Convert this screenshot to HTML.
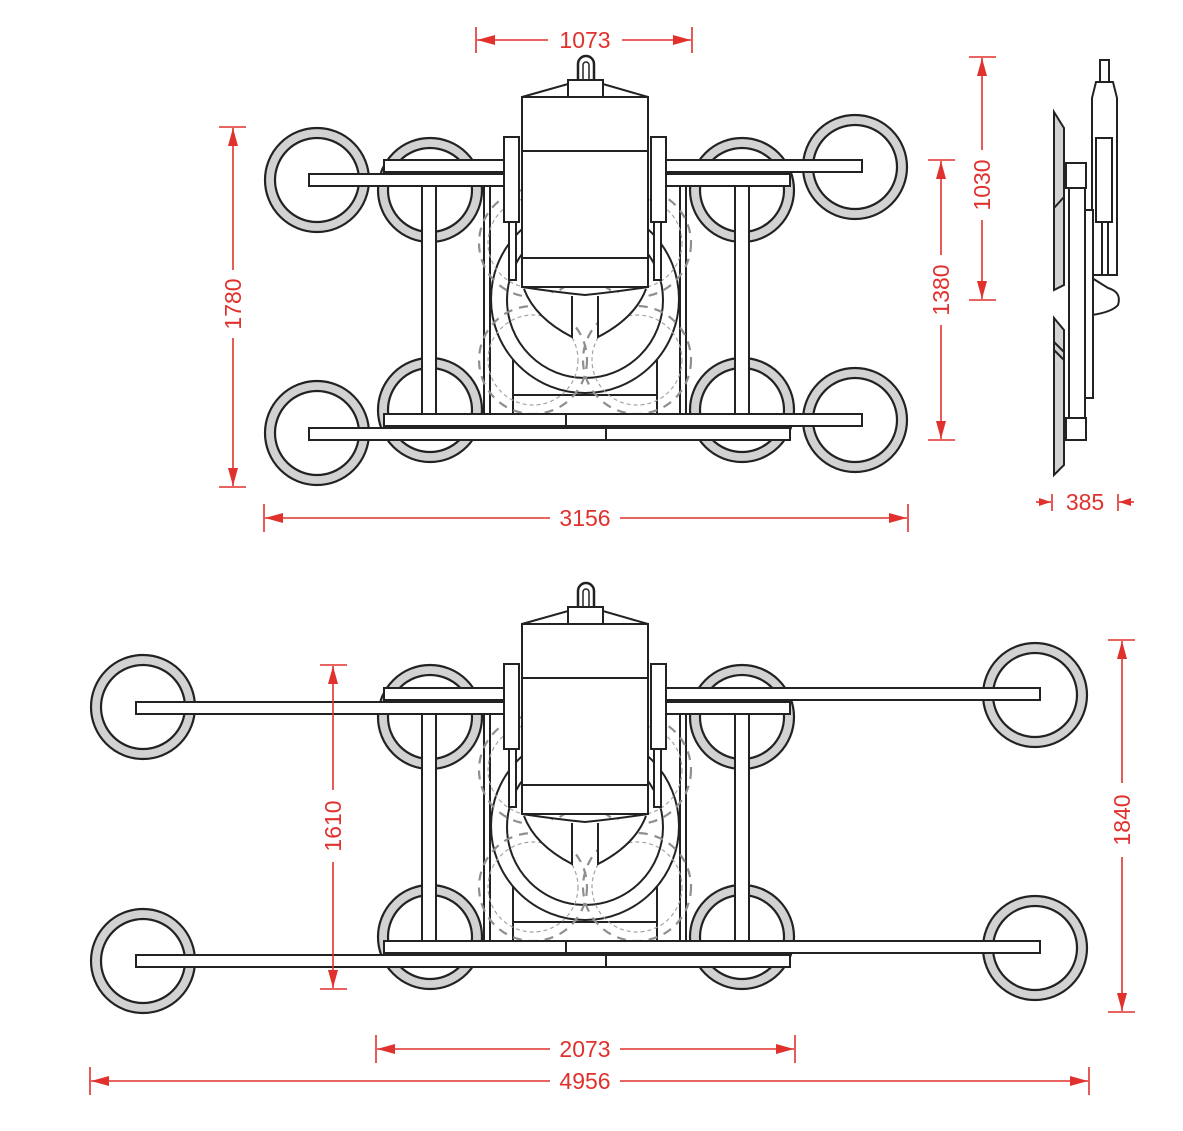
<!DOCTYPE html>
<html><head><meta charset="utf-8"><style>
html,body{margin:0;padding:0;background:#fff;}
svg{display:block}
text{font-family:"Liberation Sans",sans-serif;font-size:23px;fill:#e0312d;}
</style></head><body>
<svg width="1183" height="1131" viewBox="0 0 1183 1131" xmlns="http://www.w3.org/2000/svg">
<defs>
<g id="cup">
<circle r="47" fill="none" stroke="#d2d2d2" stroke-width="10"/>
<circle r="52" fill="none" stroke="#222" stroke-width="2.2"/>
<circle r="42" fill="none" stroke="#222" stroke-width="2.2"/>
</g>
<marker id="ar" viewBox="0 0 18 10" refX="18" refY="5" markerWidth="18" markerHeight="10" markerUnits="userSpaceOnUse" orient="auto">
<path d="M0,0 L18,5 L0,10 Z" fill="#e0312d"/>
</marker>
<marker id="ars" viewBox="0 0 12 8" refX="12" refY="4" markerWidth="12" markerHeight="8" markerUnits="userSpaceOnUse" orient="auto">
<path d="M0,0 L12,4 L0,8 Z" fill="#e0312d"/>
</marker>
<g id="body" fill="#fff" stroke="#222" stroke-width="2">
<line x1="484" y1="186" x2="484" y2="414"/><line x1="490" y1="186" x2="490" y2="414"/>
<line x1="680" y1="186" x2="680" y2="414"/><line x1="686" y1="186" x2="686" y2="414"/>
<rect x="513" y="355" width="144" height="59"/>
<line x1="513" y1="395" x2="657" y2="395"/>
<circle cx="585" cy="299" r="94"/>
<circle cx="585" cy="300" r="78"/>
<g fill="none" stroke="#8f8f8f" stroke-width="2.2" stroke-dasharray="9,7">
<circle cx="533" cy="243" r="54"/><circle cx="637" cy="243" r="54"/>
<circle cx="533" cy="360" r="54"/><circle cx="637" cy="360" r="54"/>
</g>
<g fill="none" stroke="#a5a5a5" stroke-width="1.2" stroke-dasharray="4,3">
<circle cx="533" cy="243" r="45"/><circle cx="637" cy="243" r="45"/>
<circle cx="533" cy="360" r="45"/><circle cx="637" cy="360" r="45"/>
</g>
<rect x="522" y="97" width="126" height="190"/>
<line x1="522" y1="151" x2="648" y2="151"/>
<line x1="522" y1="258" x2="648" y2="258"/>
<path d="M522,287 Q555,292 585,295 Q615,292 648,287" fill="none"/>
<path d="M524,289 Q535,318 572,337 L572,296" fill="#fff"/>
<path d="M646,289 Q635,318 598,337 L598,296" fill="#fff"/>
<path d="M522,97 L568,84 L603,84 L648,97 Z"/>
<rect x="568" y="80" width="35" height="17"/>
<path d="M578,80 L578,64 A8,8 0 0 1 594,64 L594,80" fill="none" stroke-width="2.5"/>
<path d="M583,80 L583,65 A3,3 0 0 1 589,65 L589,80" fill="none" stroke-width="1.5"/>
<rect x="504" y="137" width="15" height="85"/>
<rect x="509" y="222" width="7" height="58"/>
<rect x="651" y="137" width="15" height="85"/>
<rect x="654" y="222" width="7" height="58"/>
</g>
</defs>

<use href="#cup" x="317" y="180"/><use href="#cup" x="317" y="433"/>
<use href="#cup" x="855" y="167"/><use href="#cup" x="855" y="420"/>
<use href="#cup" x="430" y="190"/><use href="#cup" x="430" y="410"/>
<use href="#cup" x="742" y="190"/><use href="#cup" x="742" y="410"/>
<use href="#body"/>
<g fill="#fff" stroke="#222" stroke-width="2">
<rect x="422" y="186" width="14" height="228"/>
<rect x="735" y="186" width="14" height="228"/>
<rect x="384" y="160" width="120" height="12"/><rect x="666" y="160" width="196" height="12"/>
<rect x="309" y="174" width="195" height="12"/><rect x="666" y="174" width="124" height="12"/>
<rect x="384" y="414" width="478" height="12"/><line x1="566" y1="414" x2="566" y2="426"/>
<rect x="309" y="428" width="481" height="12"/><line x1="606" y1="428" x2="606" y2="440"/>
<line x1="384" y1="173" x2="504" y2="173" stroke-width="3"/><line x1="666" y1="173" x2="790" y2="173" stroke-width="3"/>
<line x1="384" y1="427" x2="790" y2="427" stroke-width="3"/>
</g>

<g fill="#fff" stroke="#222" stroke-width="2">
<rect x="1100" y="60" width="9" height="22"/>
<path d="M1096,82 L1113,82 L1117,98 L1117,275 L1092,275 L1092,98 Z"/>
<rect x="1096" y="138" width="16" height="84"/>
<line x1="1102" y1="222" x2="1102" y2="275"/><line x1="1108" y1="222" x2="1108" y2="275"/>
<path d="M1092,278 L1108,288 Q1122,292 1118,305 Q1112,312 1092,315 Z"/>
<rect x="1085" y="210" width="8" height="188"/>
<rect x="1069" y="188" width="16" height="230"/>
<rect x="1066" y="163" width="20" height="25"/>
<rect x="1066" y="418" width="20" height="22"/>
<path d="M1054,112 L1064,128 L1064,285 L1054,290 Z" fill="#d2d2d2"/>
<line x1="1054" y1="208" x2="1064" y2="197"/>
<path d="M1054,318 L1064,330 L1064,465 L1054,475 Z" fill="#d2d2d2"/>
<line x1="1054" y1="342" x2="1064" y2="352"/><line x1="1054" y1="350" x2="1064" y2="360"/>
</g>

<use href="#cup" x="143" y="707"/><use href="#cup" x="143" y="961"/>
<use href="#cup" x="1035" y="695"/><use href="#cup" x="1035" y="948"/>
<use href="#cup" x="430" y="717"/><use href="#cup" x="430" y="937"/>
<use href="#cup" x="742" y="717"/><use href="#cup" x="742" y="937"/>
<use href="#body" y="527"/>
<g fill="#fff" stroke="#222" stroke-width="2">
<rect x="422" y="713" width="14" height="228"/>
<rect x="735" y="713" width="14" height="228"/>
<rect x="384" y="688" width="120" height="12"/><rect x="666" y="688" width="374" height="12"/>
<rect x="136" y="702" width="368" height="12"/><rect x="666" y="702" width="124" height="12"/>
<rect x="384" y="941" width="656" height="12"/><line x1="566" y1="941" x2="566" y2="953"/>
<rect x="136" y="955" width="654" height="12"/><line x1="606" y1="955" x2="606" y2="967"/>
<line x1="384" y1="701" x2="504" y2="701" stroke-width="3"/><line x1="666" y1="701" x2="790" y2="701" stroke-width="3"/>
<line x1="384" y1="954" x2="790" y2="954" stroke-width="3"/>
</g>

<g stroke="#e0312d" stroke-width="1.6" fill="none">
<line x1="476" y1="27" x2="476" y2="53"/><line x1="692" y1="27" x2="692" y2="53"/>
<line x1="548" y1="40" x2="477" y2="40" marker-end="url(#ar)"/>
<line x1="622" y1="40" x2="691" y2="40" marker-end="url(#ar)"/>
<line x1="219" y1="127" x2="246" y2="127"/><line x1="219" y1="487" x2="246" y2="487"/>
<line x1="233" y1="270" x2="233" y2="128" marker-end="url(#ar)"/>
<line x1="233" y1="338" x2="233" y2="486" marker-end="url(#ar)"/>
<line x1="264" y1="504" x2="264" y2="532"/><line x1="908" y1="504" x2="908" y2="532"/>
<line x1="550" y1="518" x2="265" y2="518" marker-end="url(#ar)"/>
<line x1="620" y1="518" x2="907" y2="518" marker-end="url(#ar)"/>
<line x1="928" y1="160" x2="955" y2="160"/><line x1="928" y1="440" x2="955" y2="440"/>
<line x1="941" y1="255" x2="941" y2="161" marker-end="url(#ar)"/>
<line x1="941" y1="325" x2="941" y2="439" marker-end="url(#ar)"/>
<line x1="969" y1="57" x2="996" y2="57"/><line x1="969" y1="300" x2="996" y2="300"/>
<line x1="982" y1="150" x2="982" y2="58" marker-end="url(#ar)"/>
<line x1="982" y1="220" x2="982" y2="299" marker-end="url(#ar)"/>
<line x1="1052" y1="494" x2="1052" y2="511"/><line x1="1118" y1="494" x2="1118" y2="511"/>
<line x1="1036" y1="502" x2="1051" y2="502" marker-end="url(#ars)"/>
<line x1="1134" y1="502" x2="1119" y2="502" marker-end="url(#ars)"/>
<line x1="320" y1="665" x2="347" y2="665"/><line x1="320" y1="989" x2="347" y2="989"/>
<line x1="333" y1="790" x2="333" y2="666" marker-end="url(#ar)"/>
<line x1="333" y1="862" x2="333" y2="988" marker-end="url(#ar)"/>
<line x1="1108" y1="640" x2="1135" y2="640"/><line x1="1108" y1="1012" x2="1135" y2="1012"/>
<line x1="1122" y1="783" x2="1122" y2="641" marker-end="url(#ar)"/>
<line x1="1122" y1="857" x2="1122" y2="1011" marker-end="url(#ar)"/>
<line x1="376" y1="1035" x2="376" y2="1063"/><line x1="795" y1="1035" x2="795" y2="1063"/>
<line x1="550" y1="1049" x2="377" y2="1049" marker-end="url(#ar)"/>
<line x1="620" y1="1049" x2="794" y2="1049" marker-end="url(#ar)"/>
<line x1="90" y1="1067" x2="90" y2="1095"/><line x1="1089" y1="1067" x2="1089" y2="1095"/>
<line x1="550" y1="1081" x2="91" y2="1081" marker-end="url(#ar)"/>
<line x1="620" y1="1081" x2="1088" y2="1081" marker-end="url(#ar)"/>
</g>
<g text-anchor="middle">
<text x="585" y="48">1073</text>
<text x="585" y="526">3156</text>
<text x="1085" y="510">385</text>
<text x="585" y="1057">2073</text>
<text x="585" y="1089">4956</text>
<text transform="translate(241,304) rotate(-90)">1780</text>
<text transform="translate(949,290) rotate(-90)">1380</text>
<text transform="translate(990,185) rotate(-90)">1030</text>
<text transform="translate(341,826) rotate(-90)">1610</text>
<text transform="translate(1130,820) rotate(-90)">1840</text>
</g>
</svg>
</body></html>
